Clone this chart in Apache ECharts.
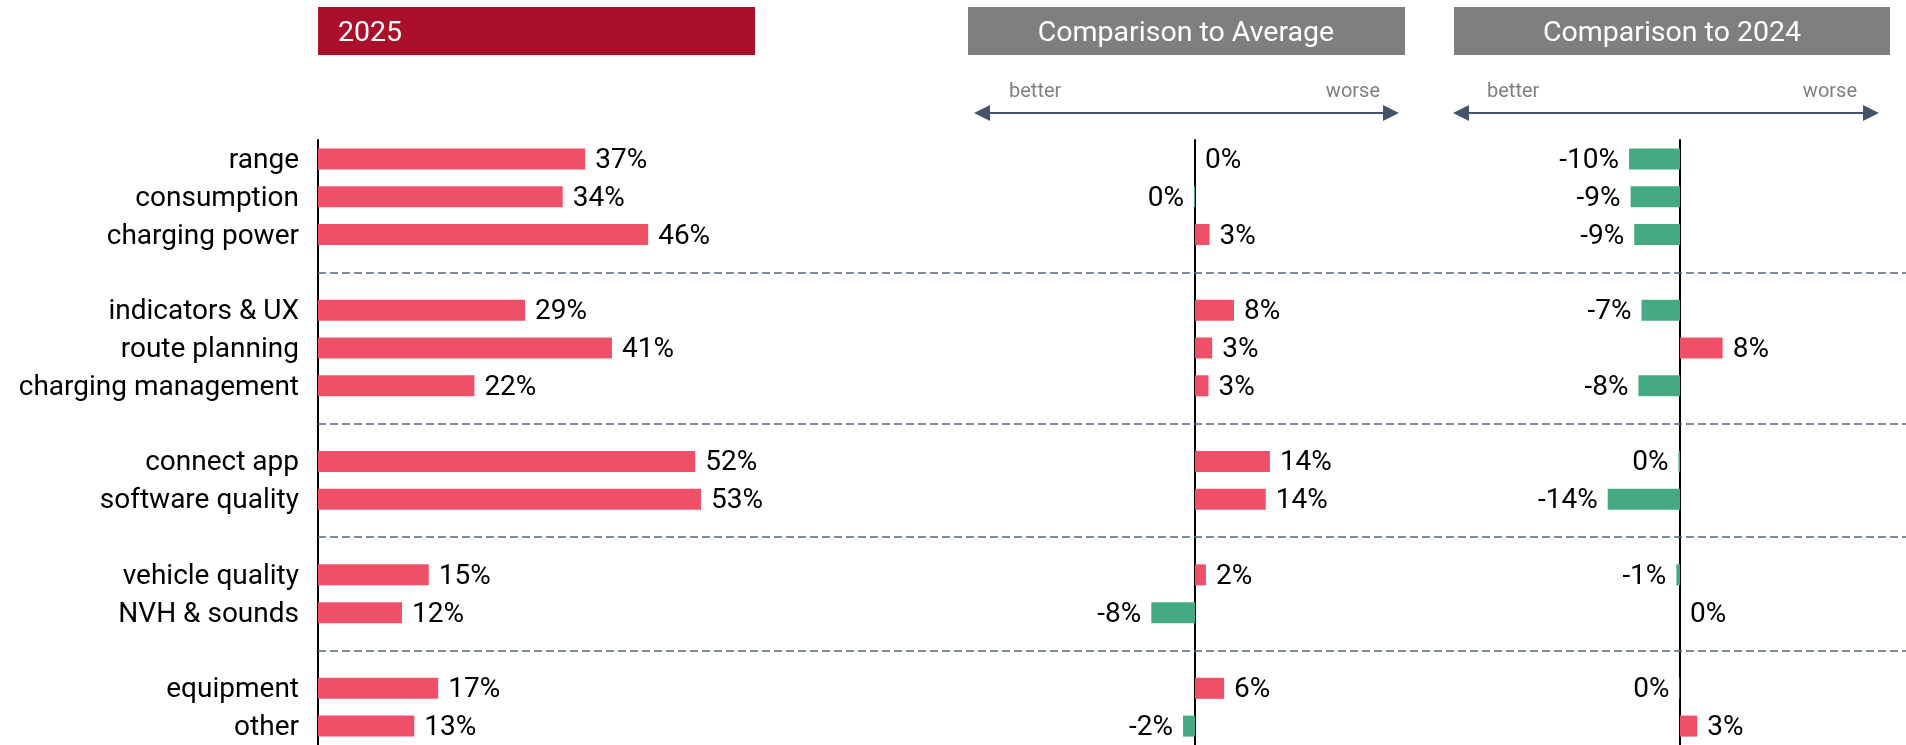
<!DOCTYPE html>
<html>
<head>
<meta charset="utf-8">
<script src="https://cdn.jsdelivr.net/npm/echarts@6/dist/echarts.min.js"></script>
<style>
html,body{margin:0;padding:0;background:#fff;}
#chart{width:1906px;height:745px;}
</style>
</head>
<body>
<div id="chart"></div>
<script>
// ---- data ----
const categories = ['range', 'consumption', 'charging power', '',
  'indicators & UX', 'route planning', 'charging management', '',
  'connect app', 'software quality', '',
  'vehicle quality', 'NVH & sounds', '',
  'equipment', 'other'];
const share2025 = [36.9, 33.8, 45.6, null, 28.6, 40.6, 21.6, null, 52.1, 52.9, null, 15.3, 11.6, null, 16.6, 13.3];
const diffAverage = [0.0, -0.2, 2.8, null, 7.5, 3.3, 2.6, null, 14.4, 13.6, null, 2.1, -8.4, null, 5.6, -2.3];
const diff2024 = [-9.8, -9.5, -8.8, null, -7.4, 8.2, -8.0, null, -0.3, -13.9, null, -0.7, 0.0, null, -0.1, 3.3];
const separatorRows = [3, 7, 10, 13];
const panelTitles = ['2025', 'Comparison to Average', 'Comparison to 2024'];
const directionLabels = ['better', 'worse'];

const FONT = 'Roboto';
const PINK = '#EF5068';
const GREEN = '#45AA82';
const SLATE = '#44546A';

function fmt(v) { const r = Math.round(v); return (r === 0 ? 0 : r) + '%'; }
function items(arr) {
  return arr.map(v => v === null ? null : {
    value: v,
    itemStyle: { color: v < 0 ? GREEN : PINK },
    label: { position: v < 0 ? 'left' : 'right' }
  });
}

const gridTop = 140, gridHeight = 608;
const yBase = {
  type: 'category', data: categories, inverse: true,
  axisTick: { show: false },
  splitLine: { show: false }
};

const chart = echarts.init(document.getElementById('chart'));
const labelStyle = { show: true, fontFamily: FONT, fontSize: 28, color: '#000', distance: 10,
  offset: [0, 2], formatter: p => fmt(p.value) };
const barBase = { type: 'bar', barWidth: 21, silent: true, label: labelStyle };

chart.setOption({
  animation: false,
  textStyle: { fontFamily: FONT },
  grid: [
    { left: 318, top: gridTop, width: 434.4, height: gridHeight },
    { left: 961, top: gridTop, width: 442, height: gridHeight },
    { left: 1446, top: gridTop, width: 442, height: gridHeight },
    { left: 318, top: gridTop, right: 0, height: gridHeight }
  ],
  xAxis: [
    { gridIndex: 0, type: 'value', min: 0, max: 60, show: false },
    { gridIndex: 1, type: 'value', min: -45, max: 40, show: false },
    { gridIndex: 2, type: 'value', min: -45, max: 40, show: false },
    { gridIndex: 3, type: 'value', min: 0, max: 1, show: false }
  ],
  yAxis: [
    Object.assign({}, yBase, { gridIndex: 0,
      axisLine: { show: true, lineStyle: { color: '#000', width: 2 } },
      axisLabel: { show: true, fontFamily: FONT, fontSize: 28, color: '#000', margin: 19,
        formatter: v => '{l|' + v + '}', rich: { l: { fontFamily: FONT, fontSize: 28, color: '#000', padding: [4, 0, 0, 0] } } } }),
    Object.assign({}, yBase, { gridIndex: 1,
      axisLine: { show: true, onZero: true, lineStyle: { color: '#000', width: 2 } },
      axisLabel: { show: false } }),
    Object.assign({}, yBase, { gridIndex: 2,
      axisLine: { show: true, onZero: true, lineStyle: { color: '#000', width: 2 } },
      axisLabel: { show: false } }),
    Object.assign({}, yBase, { gridIndex: 3, show: false })
  ],
  series: [
    Object.assign({}, barBase, { xAxisIndex: 0, yAxisIndex: 0, data: items(share2025) }),
    Object.assign({}, barBase, { xAxisIndex: 1, yAxisIndex: 1, data: items(diffAverage) }),
    Object.assign({}, barBase, { xAxisIndex: 2, yAxisIndex: 2, data: items(diff2024) }),
    {
      type: 'line', xAxisIndex: 3, yAxisIndex: 3, data: [], silent: true,
      markLine: {
        silent: true, symbol: 'none', label: { show: false },
        lineStyle: { color: '#56657C', type: [8, 4], width: 1.5 },
        data: separatorRows.map(i => ({ yAxis: i }))
      }
    }
  ],
  graphic: [
    { type: 'rect', shape: { x: 318, y: 7, width: 437, height: 48 }, style: { fill: '#AA1029' } },
    { type: 'text', x: 338, y: 34, style: { text: panelTitles[0], fill: '#fff', font: '28.5px ' + FONT, textVerticalAlign: 'middle' } },
    { type: 'rect', shape: { x: 968, y: 7, width: 437, height: 48 }, style: { fill: '#7F7F7F' } },
    { type: 'text', x: 1186, y: 34, style: { text: panelTitles[1], fill: '#fff', font: '28.5px ' + FONT, textAlign: 'center', textVerticalAlign: 'middle' } },
    { type: 'rect', shape: { x: 1454, y: 7, width: 436, height: 48 }, style: { fill: '#7F7F7F' } },
    { type: 'text', x: 1672, y: 34, style: { text: panelTitles[2], fill: '#fff', font: '28.5px ' + FONT, textAlign: 'center', textVerticalAlign: 'middle' } },
    // direction arrows
    { type: 'line', shape: { x1: 985, y1: 113, x2: 1388, y2: 113 }, style: { stroke: SLATE, lineWidth: 2 } },
    { type: 'polygon', shape: { points: [[974, 113], [990, 105], [990, 121]] }, style: { fill: SLATE } },
    { type: 'polygon', shape: { points: [[1399, 113], [1383, 105], [1383, 121]] }, style: { fill: SLATE } },
    { type: 'text', x: 1009, y: 92, style: { text: directionLabels[0], fill: '#7F7F7F', font: '20px ' + FONT, textVerticalAlign: 'middle' } },
    { type: 'text', x: 1380, y: 92, style: { text: directionLabels[1], fill: '#7F7F7F', font: '20px ' + FONT, textAlign: 'right', textVerticalAlign: 'middle' } },
    { type: 'line', shape: { x1: 1464, y1: 113, x2: 1868, y2: 113 }, style: { stroke: SLATE, lineWidth: 2 } },
    { type: 'polygon', shape: { points: [[1453, 113], [1469, 105], [1469, 121]] }, style: { fill: SLATE } },
    { type: 'polygon', shape: { points: [[1879, 113], [1863, 105], [1863, 121]] }, style: { fill: SLATE } },
    { type: 'text', x: 1487, y: 92, style: { text: directionLabels[0], fill: '#7F7F7F', font: '20px ' + FONT, textVerticalAlign: 'middle' } },
    { type: 'text', x: 1857, y: 92, style: { text: directionLabels[1], fill: '#7F7F7F', font: '20px ' + FONT, textAlign: 'right', textVerticalAlign: 'middle' } }
  ]
});
</script>
</body>
</html>
